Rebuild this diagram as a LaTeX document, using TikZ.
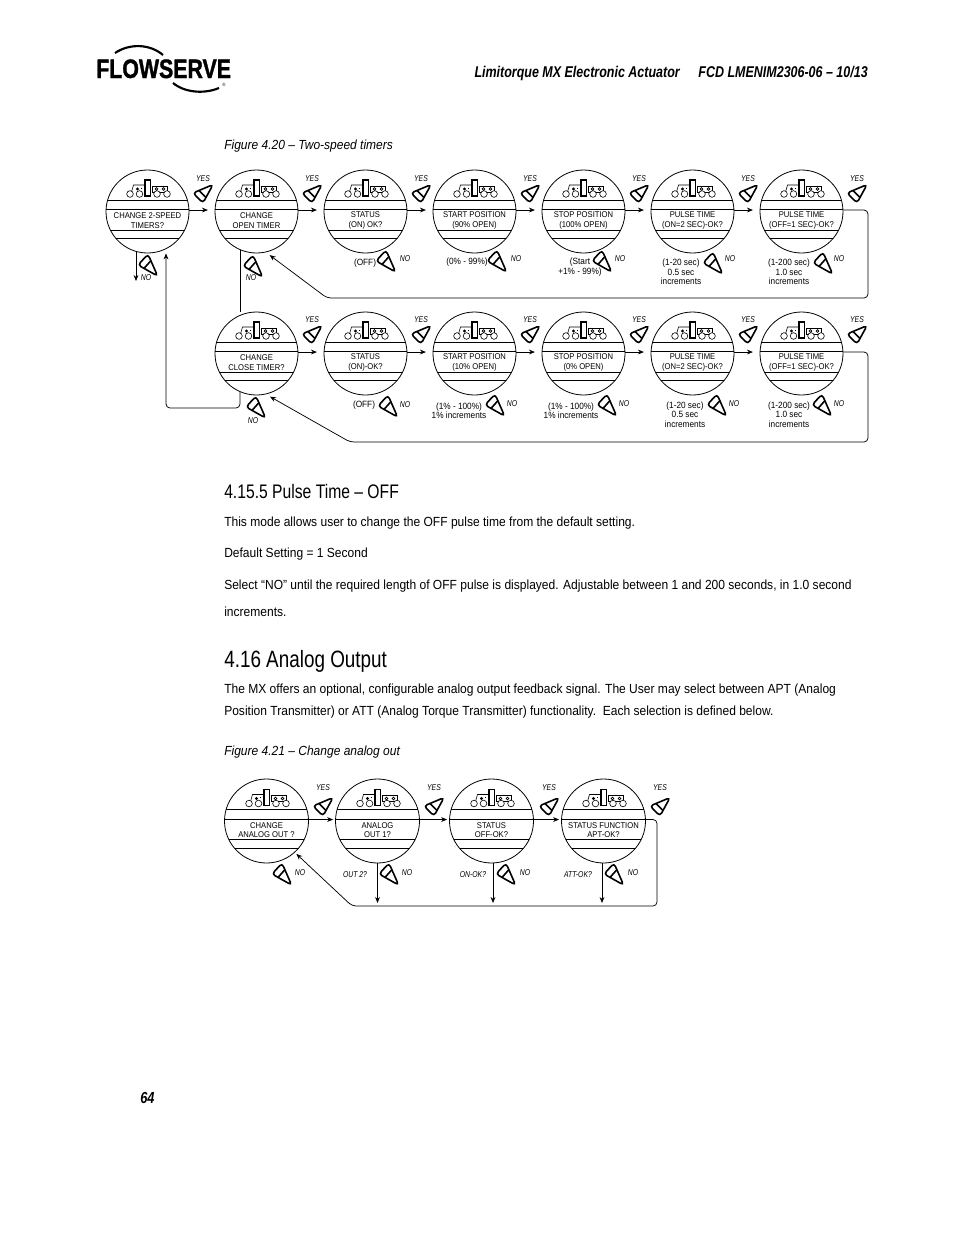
\documentclass[tikz,border=0pt]{standalone}
\usepackage{fontspec}
\setmainfont{Liberation Sans}[FakeStretch=0.91]
\newfontfamily\cnfont{Liberation Sans}[FakeStretch=0.8]
\newfontfamily\logofont{Liberation Sans}[FakeStretch=0.8,BoldFeatures={FakeBold=1.2}]
\usetikzlibrary{arrows.meta}
\newcommand{\panel}[5]{%
  \node[panel, minimum size=1.5pt*#5] (#1) at (#2,#3) {};
  \begin{scope}
    \clip (#2,#3) circle (#5);
    \foreach \dy in {-11.5,-2,18.5,27}
      \draw[chord] (#2-50,#3+\dy) -- (#2+50,#3+\dy);
  \end{scope}
  \pic at (#2,#3-23.5) {keypad};
  \node[paneltxt] (#1txt) at (#2,#3+9) {#4};
}
\tikzset{
  pics/keypad/.style={code={
    \draw[icon] (-16,4) -- (-14,-3) -- (-3,-3) -- (-3,5);
    \draw[icon] (5,-2) rectangle (20,4);
    \draw[icon, fill=white, line width=.8] (-2.5,-8) rectangle (3,8);
    \foreach \cx in {-17.5,-8,9.5,19.5}
      \draw[icon, fill=white] (\cx,6) circle (3.3);
    \foreach \cx in {9,16}
      \draw[icon] (\cx,1) circle (1.4);
    \fill (-10,1) circle (1.6);
    \fill (-6.8,-.5) rectangle (-5.4,.2);
  }},
  pics/keyup/.style={code={
    \draw[key, rounded corners=2.5pt] (10,-8.4) -- (-10,0) -- (0,10) -- cycle;
    \draw[key] (-4,-2.4) -- (3,4.6);
  }},
  pics/keydown/.style={code={
    \draw[key, rounded corners=2.5pt] (9.6,11) -- (-10,0) -- (0,-10.8) -- cycle;
    \draw[key] (-3.8,3.2) -- (2.9,-4.3);
  }},
}
\begin{document}
\begin{tikzpicture}[
    x=0.75pt, y=-0.75pt,
    panel/.style={circle, draw, inner sep=0pt, line width=.6pt},
    chord/.style={line width=.6pt},
    icon/.style={line width=.45pt},
    key/.style={line width=1.2pt},
    paneltxt/.style={align=center, font=\fontsize{6.3}{7.1}\selectfont, inner sep=0pt},
    small/.style={align=center, font=\fontsize{6.8}{7}\selectfont, inner sep=0pt},
    tag/.style={font=\cnfont\fontsize{6.4}{7}\selectfont\itshape, inner sep=0pt},
    body/.style={anchor=base west, inner sep=0pt, font=\fontsize{9.92}{12}\selectfont},
    caption/.style={anchor=base west, inner sep=0pt, font=\fontsize{9.9}{12}\selectfont\itshape},
    arr/.style={-{Stealth[length=4.5pt,width=3.6pt]}, line width=.55pt},
    wire/.style={line width=.6pt, rounded corners=3pt},
  ]
  \useasboundingbox (0,0) rectangle (954,1235);
  \fill[white] (0,0) rectangle (954,1235);
  % logo and heading
  \node[anchor=base west, inner sep=0pt, font=\logofont\fontsize{20}{20}\selectfont\bfseries] (logo) at (96,78) {FLOWSERVE};
  \node[inner sep=0pt, font=\fontsize{3.5}{4}\selectfont] (reg) at (224,85) {®};
  \draw[line width=1.6pt] (115,53) .. controls (130,43) and (150,44) .. (163,55);
  \draw[line width=1.6pt] (173,83) .. controls (185,93) and (205,94) .. (219,88);
  \node[anchor=base east, inner sep=0pt, font=\cnfont\fontsize{11.7}{14}\selectfont\bfseries\itshape] (head) at (868,77) {Limitorque MX Electronic Actuator\hspace{1.2em}FCD LMENIM2306-06 – 10/13};
  \node[caption] (cap20) at (224,149) {Figure 4.20 – Two-speed timers};
  % first row
  \panel{a}{147.5}{211.5}{CHANGE 2-SPEED\\TIMERS?}{41.5}
  \panel{b}{256.5}{211.5}{CHANGE\\OPEN TIMER}{41.5}
  \panel{c}{365.5}{211.5}{STATUS\\(ON) OK?}{41.5}
  \panel{d}{474.5}{211.5}{START POSITION\\(90\% OPEN)}{41.5}
  \panel{e}{583.5}{211.5}{STOP POSITION\\(100\% OPEN)}{41.5}
  \panel{f}{692.5}{211.5}{PULSE TIME\\(ON=2 SEC)-OK?}{41.5}
  \panel{g}{801.5}{211.5}{PULSE TIME\\(OFF=1 SEC)-OK?}{41.5}
  % second row
  \panel{i}{256.5}{353.5}{CHANGE\\CLOSE TIMER?}{41.5}
  \panel{j}{365.5}{353.5}{STATUS\\(ON)-OK?}{41.5}
  \panel{k}{474.5}{353.5}{START POSITION\\(10\% OPEN)}{41.5}
  \panel{l}{583.5}{353.5}{STOP POSITION\\(0\% OPEN)}{41.5}
  \panel{m}{692.5}{353.5}{PULSE TIME\\(ON=2 SEC)-OK?}{41.5}
  \panel{n}{801.5}{353.5}{PULSE TIME\\(OFF=1 SEC)-OK?}{41.5}
  % analog output row
  \panel{p}{266.5}{821}{CHANGE\\ANALOG OUT ?}{42}
  \panel{q}{377.5}{821}{ANALOG\\OUT 1?}{42}
  \panel{r}{491.5}{821}{STATUS\\OFF-OK?}{42}
  \panel{s}{603.5}{821}{STATUS FUNCTION\\APT-OK?}{42}
  % yes arrows
  \foreach \from/\to in {a/b,b/c,c/d,d/e,e/f,f/g,i/j,j/k,k/l,l/m,m/n}
    \draw[arr, shorten >=5pt] (\from.2) -- (\to.178);
  \foreach \from/\to in {p/q,q/r,r/s}
    \draw[arr, shorten >=1.5pt] (\from.2) -- (\to.178);
  % yes keys
  \foreach \kx in {203,312,421,530,639,748,857} {
    \pic at (\kx,193) {keyup};
    \node[tag] at (\kx,178.5) {YES};
  }
  \foreach \kx in {312,421,530,639,748,857} {
    \pic at (\kx,334) {keyup};
    \node[tag] at (\kx,319.5) {YES};
  }
  \foreach \kx in {323,434,549,660} {
    \pic at (\kx,806) {keyup};
    \node[tag] at (\kx,788) {YES};
  }
  % no keys, first row
  \foreach \kx/\ky/\nx/\ny in {148/265/146/278, 253/266/251/278, 386/261/405/259, 497/261/516/259, 602/261/620/259, 713/263/730/259, 823/263/839/259}
    {\pic at (\kx,\ky) {keydown}; \node[tag] at (\nx,\ny) {NO};}
  % no keys, second row
  \foreach \kx/\ky/\nx/\ny in {256/407/253/421, 388/406/405/405, 495/405/512/404, 607/405/624/404, 717/405/734/404, 822/405/839/404}
    {\pic at (\kx,\ky) {keydown}; \node[tag] at (\nx,\ny) {NO};}
  % no keys, analog output
  \foreach \kx/\nx in {282/300, 389/407, 506/525, 614/633}
    {\pic at (\kx,874) {keydown}; \node[tag] at (\nx,873) {NO};}
  \node[tag] (out2) at (355,874.5) {OUT 2?};
  \node[tag] (onok) at (473,874.5) {ON-OK?};
  \node[tag] (attok) at (578,874.5) {ATT-OK?};
  % value ranges
  \node[small] (v1) at (365,263) {(OFF)};
  \node[small] (v2) at (467,262.5) {(0\% - 99\%)};
  \node[small] (v3) at (580,267) {(Start\\+1\% - 99\%)};
  \node[small] (v4) at (681,272) {(1-20 sec)\\0.5 sec\\increments};
  \node[small] (v5) at (789,272) {(1-200 sec)\\1.0 sec\\increments};
  \node[small] (v6) at (364,405) {(OFF)};
  \node[small] (v7) at (459,410.5) {(1\% - 100\%)\\1\% increments};
  \node[small] (v8) at (571,410.5) {(1\% - 100\%)\\1\% increments};
  \node[small] (v9) at (685,414.5) {(1-20 sec)\\0.5 sec\\increments};
  \node[small] (v10) at (789,414.5) {(1-200 sec)\\1.0 sec\\increments};
  % connectors
  \coordinate (noa) at (136,281);
  \coordinate (link) at (240,408);
  \coordinate (backup) at (166,408);
  \coordinate (qout) at (377.5,903);
  \coordinate (rout) at (493,903);
  \coordinate (sout) at (602,903);
  \coordinate (gcorner) at (868,210);
  \coordinate (gdown) at (868,298);
  \coordinate (gleft) at (327,298);
  \coordinate (ncorner) at (868,352);
  \coordinate (ndown) at (868,442);
  \coordinate (nleft) at (350,442);
  \coordinate (scorner) at (657,819.5);
  \coordinate (sdown) at (657,906);
  \coordinate (sleft) at (352,906);
  \draw[arr] (a.south -| noa) ++(0,-1.5) -- (noa);
  \draw[wire] (b.south -| link) ++(0,-3.5) -- (i.north -| link);
  \draw[wire, arr] (i.south -| link) ++(0,-3.5) -- (link) -- (backup) -- (a.south -| backup);
  \draw[wire, arr, shorten >=3.5pt] (g.2) -- (gcorner) -- (gdown) -- (gleft) -- (b.-77);
  \draw[wire, arr, shorten >=3.5pt] (n.2) -- (ncorner) -- (ndown) -- (nleft) -- (i.-77);
  \draw[wire, arr, shorten >=1.5pt] (s.2) -- (scorner) -- (sdown) -- (sleft) -- (p.-48);
  \draw[arr] (q.south) -- (qout);
  \draw[arr] (r.south -| rout) -- (rout);
  \draw[arr] (s.south -| sout) -- (sout);
  % text
  \node[anchor=base west, inner sep=0pt, font=\cnfont\fontsize{14.7}{18}\selectfont] (h1) at (224,498) {4.15.5 Pulse Time – OFF};
  \node[body] (t1) at (224,526) {This mode allows user to change the OFF pulse time from the default setting.};
  \node[body] (t2) at (224,557) {Default Setting = 1 Second};
  \node[body] (t3) at (224,589) {Select “NO” until the required length of OFF pulse is displayed. Adjustable between 1 and 200 seconds, in 1.0 second};
  \node[body] (t4) at (224,616) {increments.};
  \node[anchor=base west, inner sep=0pt, font=\cnfont\fontsize{17.7}{22}\selectfont] (h2) at (224,667) {4.16 Analog Output};
  \node[body] (t5) at (224,693) {The MX offers an optional, configurable analog output feedback signal. The User may select between APT (Analog};
  \node[body] (t6) at (224,715) {Position Transmitter) or ATT (Analog Torque Transmitter) functionality.\ \ Each selection is defined below.};
  \node[caption] (cap21) at (224,755) {Figure 4.21 – Change analog out};
  \node[anchor=base west, inner sep=0pt, font=\cnfont\fontsize{12}{14}\selectfont\bfseries\itshape] (pageno) at (140,1103) {64};
\end{tikzpicture}
\end{document}
